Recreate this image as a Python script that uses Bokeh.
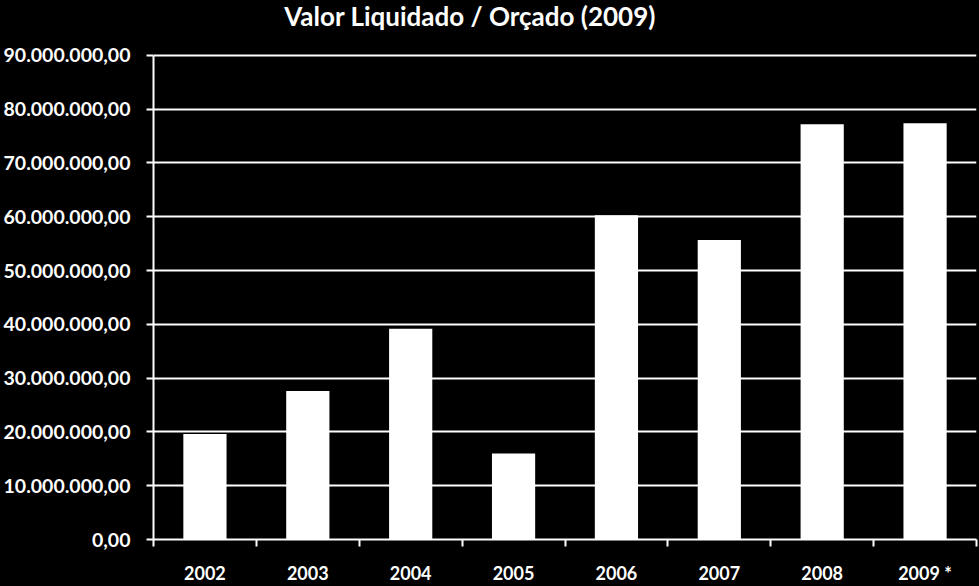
from bokeh.plotting import figure
from bokeh.models import FixedTicker, Range1d, Label
from bokeh.embed import file_html
from bokeh.resources import INLINE

title_text = "Valor Liquidado / Orçado (2009)"
categories = ["2002", "2003", "2004", "2005", "2006", "2007", "2008", "2009 *"]
values = [19_600_000, 27_600_000, 39_200_000, 16_000_000, 60_300_000, 55_700_000, 77_200_000, 77_400_000]
y_ticks = [0, 10_000_000, 20_000_000, 30_000_000, 40_000_000, 50_000_000,
           60_000_000, 70_000_000, 80_000_000, 90_000_000]
y_tick_labels = ["0,00", "10.000.000,00", "20.000.000,00", "30.000.000,00", "40.000.000,00",
                 "50.000.000,00", "60.000.000,00", "70.000.000,00", "80.000.000,00", "90.000.000,00"]

FONT = "Lato"
n = len(categories)
centers = [i + 0.5 for i in range(n)]
bounds = [i for i in range(n + 1)]

# layout (pixels): frame spans the full height above the x axis; the axis
# maximum sits TOP_GAP pixels below the frame top, leaving room for the title.
FRAME_H = 540.0
TOP_GAP = 55.0
y_max = y_ticks[-1]
y_end = y_max * FRAME_H / (FRAME_H - TOP_GAP)

p = figure(width=979, height=586, output_backend="svg", toolbar_location=None,
           x_range=Range1d(0, n), y_range=Range1d(0, y_end),
           min_border_left=152, min_border_right=3, min_border_top=0, min_border_bottom=46)

p.background_fill_color = "black"
p.border_fill_color = "black"
p.outline_line_color = None

# title: baseline near the top, centred at x = 469 px of the page
title_y = y_end * (FRAME_H - 16) / FRAME_H
title_x = (469 - 152) / (824 / n)
p.add_layout(Label(x=title_x, y=title_y, text=title_text, text_align="center",
                   text_baseline="alphabetic", text_color="white", text_font=FONT,
                   text_font_size="26px", text_font_style="bold"))

p.vbar(x=centers, top=values, width=0.42, fill_color="white", line_color=None)

# x axis
p.xaxis.ticker = FixedTicker(ticks=centers, minor_ticks=bounds)
p.xaxis.major_label_overrides = {c: lab for c, lab in zip(centers, categories)}
p.xaxis.major_tick_out = 0
p.xaxis.major_tick_in = 0
p.xaxis.minor_tick_out = 7
p.xaxis.minor_tick_in = 0
p.xaxis.minor_tick_line_color = "white"
p.xaxis.minor_tick_line_width = 2
p.xaxis.axis_line_color = "white"
p.xaxis.axis_line_width = 2
p.xaxis.major_label_text_color = "white"
p.xaxis.major_label_text_font = FONT
p.xaxis.major_label_text_font_size = "18px"
p.xaxis.major_label_text_font_style = "bold"
p.xaxis.major_label_standoff = 15

# y axis
p.yaxis.ticker = FixedTicker(ticks=y_ticks)
p.yaxis.bounds = (0, y_max)
p.yaxis.major_label_overrides = {t: lab for t, lab in zip(y_ticks, y_tick_labels)}
p.yaxis.major_tick_out = 7
p.yaxis.major_tick_in = 0
p.yaxis.minor_tick_line_color = None
p.yaxis.major_tick_line_color = "white"
p.yaxis.major_tick_line_width = 2
p.yaxis.axis_line_color = "white"
p.yaxis.axis_line_width = 2
p.yaxis.major_label_text_color = "white"
p.yaxis.major_label_text_font = FONT
p.yaxis.major_label_text_font_size = "19.5px"
p.yaxis.major_label_text_font_style = "bold"
p.yaxis.major_label_standoff = 16

p.xgrid.grid_line_color = None
p.ygrid.grid_line_color = "white"
p.ygrid.grid_line_width = 2
p.ygrid.ticker = FixedTicker(ticks=y_ticks)

html = file_html(p, INLINE)
html = html.replace("</head>", "<style>html,body{margin:0;padding:0;background:#000;overflow:hidden;}</style></head>", 1)
open("out.html", "w").write(html)
